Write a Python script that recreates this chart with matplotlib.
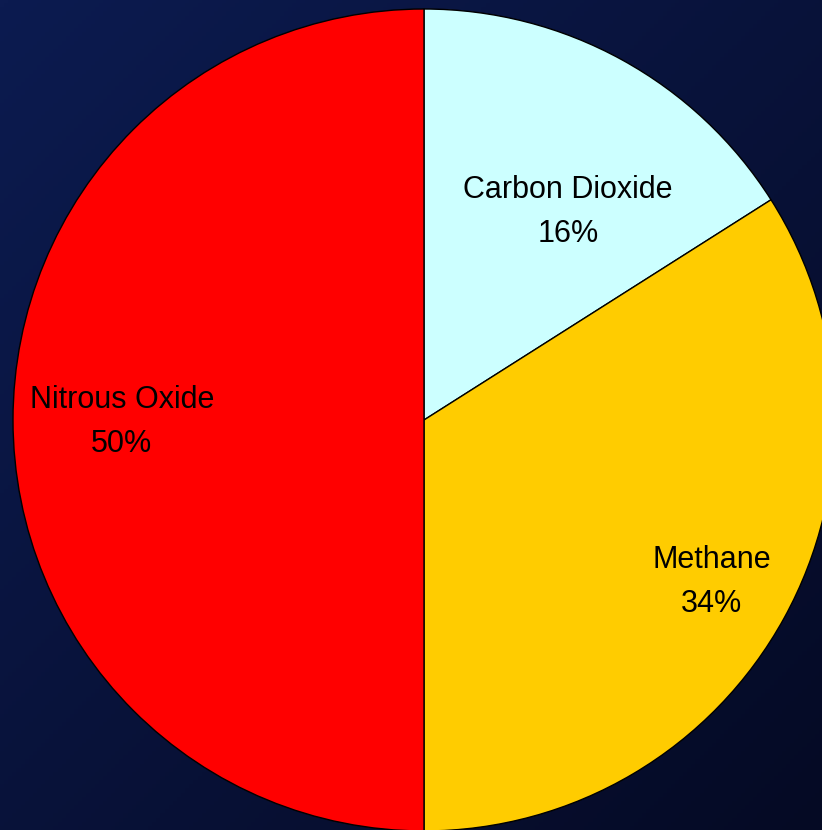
import numpy as np
import matplotlib.pyplot as plt
from matplotlib.colors import LinearSegmentedColormap

gases = ['Carbon Dioxide', 'Methane', 'Nitrous Oxide']
shares = [16, 34, 50]
colors = ['#ccffff', '#ffcc00', '#ff0000']

# where the labels sit (in pie radius units)
label_pos = [(0.350, 0.507), (0.700, -0.395), (-0.735, -0.005)]

fig = plt.figure(figsize=(8.22, 8.30), dpi=100)

# navy gradient background, lighter top-left -> darker bottom-right
bg = fig.add_axes([0, 0, 1, 1])
bg.axis('off')
xx, yy = np.meshgrid(np.linspace(0, 1, 200), np.linspace(0, 1, 200))
grad = (xx + yy) / 2
cmap = LinearSegmentedColormap.from_list('bgnavy', ['#0c1b50', '#050a24'])
bg.imshow(grad, cmap=cmap, aspect='auto', extent=[0, 1, 0, 1], origin='upper')

ax = fig.add_axes([0, 0, 1, 1])
ax.set_facecolor('none')
ax.pie(shares, colors=colors, startangle=90, counterclock=False, radius=1,
       wedgeprops=dict(edgecolor='black', linewidth=1))
ax.set_xlim(-424 / 411, (822 - 424) / 411)
ax.set_ylim(-410 / 411, 420 / 411)
ax.set_aspect('equal')
ax.axis('off')

for name, val, (x, y) in zip(gases, shares, label_pos):
    ax.text(x, y, f'{name}\n{val}%', ha='center', va='center', fontsize=22,
            family=['Liberation Sans', 'DejaVu Sans'], color='black',
            linespacing=1.6)

fig.savefig('out.png', dpi=100)
